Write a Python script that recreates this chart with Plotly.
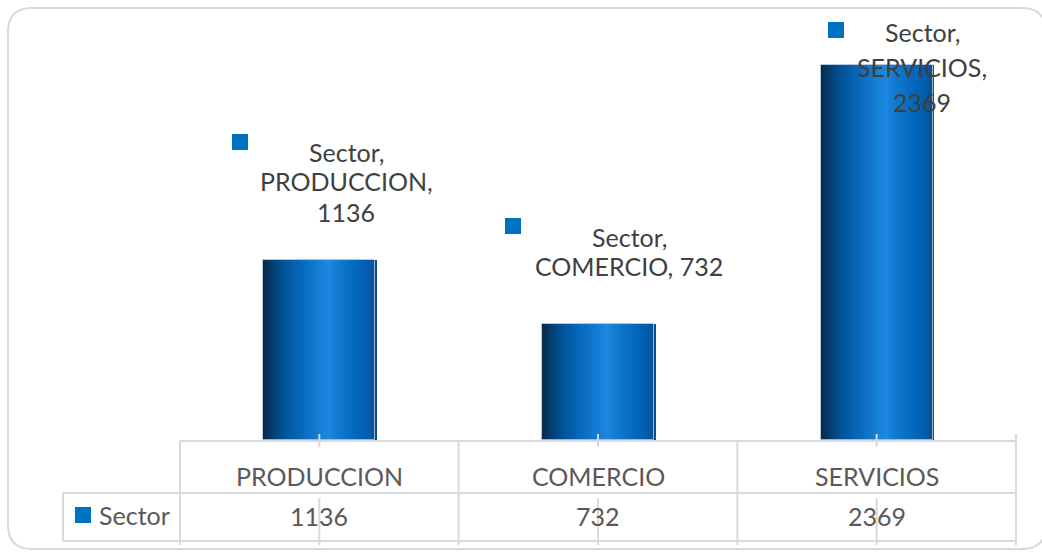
import plotly.graph_objects as go

categories = ["PRODUCCION", "COMERCIO", "SERVICIOS"]
values = [1136, 732, 2369]
series_name = "Sector"

W, H = 1042, 552
ML, MR, MT, MB = 180, 26, 44, 112
PW, PH = W - ML - MR, H - MT - MB

def px(x):
    return (x - ML) / PW

def py(y):
    return (H - MB - y) / PH

# gradient across the bar (position, rgb)
stops = [
    (0.00, (10, 40, 70)),
    (0.08, (2, 62, 112)),
    (0.20, (0, 86, 156)),
    (0.35, (8, 106, 190)),
    (0.50, (20, 126, 214)),
    (0.58, (28, 136, 224)),
    (0.70, (14, 118, 204)),
    (0.85, (2, 102, 186)),
    (0.95, (4, 90, 168)),
    (1.00, (12, 76, 136)),
]

def grad(t):
    for (a, ca), (b, cb) in zip(stops[:-1], stops[1:]):
        if a <= t <= b:
            f = (t - a) / (b - a) if b > a else 0
            c = [round(ca[k] + (cb[k] - ca[k]) * f) for k in range(3)]
            return f"rgb({c[0]},{c[1]},{c[2]})"
    return "rgb(12,76,136)"

bar_w = 0.402
N = 40
fig = go.Figure()
sw = bar_w / N
for i in range(N):
    t = (i + 0.5) / N
    fig.add_trace(go.Bar(
        x=categories, y=values, width=sw * 1.6, offset=-bar_w / 2 + i * sw,
        marker=dict(color=grad(t), line=dict(width=0)),
        showlegend=False, hoverinfo="skip",
    ))
# outline
fig.add_trace(go.Bar(
    x=categories, y=values, width=bar_w, offset=-bar_w / 2,
    marker=dict(color="rgba(0,0,0,0)", line=dict(width=1, color="rgba(170,195,220,0.9)")),
    showlegend=False, hoverinfo="skip",
))

grey = "#d9d9d9"
shapes = []
def line(x0, y0, x1, y1, w=2, c=grey):
    shapes.append(dict(type="line", xref="paper", yref="paper",
                       x0=px(x0), y0=py(y0), x1=px(x1), y1=py(y1),
                       line=dict(color=c, width=w)))

# rounded frame
fx0, fy0, fx1, fy1, r = 8, 8, 1046, 549, 24
path = (f"M {px(fx0+r)},{py(fy0)} L {px(fx1-r)},{py(fy0)} "
        f"Q {px(fx1)},{py(fy0)} {px(fx1)},{py(fy0+r)} "
        f"L {px(fx1)},{py(fy1-r)} Q {px(fx1)},{py(fy1)} {px(fx1-r)},{py(fy1)} "
        f"L {px(fx0+r)},{py(fy1)} Q {px(fx0)},{py(fy1)} {px(fx0)},{py(fy1-r)} "
        f"L {px(fx0)},{py(fy0+r)} Q {px(fx0)},{py(fy0)} {px(fx0+r)},{py(fy0)} Z")
shapes.append(dict(type="path", xref="paper", yref="paper", path=path,
                   line=dict(color=grey, width=2), fillcolor="rgba(0,0,0,0)"))

# data table
tx = [ML + PW * k / len(categories) for k in range(len(categories) + 1)]
line(ML, 441, tx[-1], 441)
line(63, 493, tx[-1], 493)
line(63, 541, tx[-1], 541)
line(63, 493, 63, 541)
line(tx[0], 441, tx[0], 545)
for xx in tx[1:-1]:
    line(xx, 441, xx, 545)
line(tx[-1], 434, tx[-1], 545)
for k in range(len(categories)):
    cx = (tx[k] + tx[k + 1]) / 2
    line(cx, 434, cx, 447)
    line(cx, 498, cx, 545)

annotations = []
font_tbl = dict(family="Lato", size=25, color="#595959")
font_lbl = dict(family="Lato", size=25, color="#404040")

def text(x, y, s, font, xanchor="center"):
    annotations.append(dict(xref="paper", yref="paper", x=px(x), y=py(y), text=s,
                            showarrow=False, font=font, xanchor=xanchor, yanchor="middle"))

def square(x0, y0, size=16):
    shapes.append(dict(type="rect", xref="paper", yref="paper",
                       x0=px(x0), y0=py(y0), x1=px(x0 + size), y1=py(y0 + size),
                       fillcolor="#0070C0", line=dict(width=0)))

for k, (c, v) in enumerate(zip(categories, values)):
    cx = (tx[k] + tx[k + 1]) / 2
    text(cx, 476, c, font_tbl)
    text(cx, 516, f"{v}", font_tbl)

square(75, 507)
text(97, 515, series_name, font_tbl, xanchor="left")

# data labels (series name, category, value)
lbl_layout = [
    # square x, square y, text center x, line y positions
    (232, 134, 346, [152, 181, 212], "split3"),
    (505, 218, 629, [237, 266], "split2"),
    (828, 22, 922, [32, 67, 102], "split3"),
]
for (sqx, sqy, lx, ys, mode), c, v in zip(lbl_layout, categories, values):
    square(sqx, sqy)
    if mode == "split3":
        lines = [f"{series_name},", f"{c},", f"{v}"]
    else:
        lines = [f"{series_name},", f"{c}, {v}"]
    for yy, s in zip(ys, lines):
        text(lx, yy, s, font_lbl)

fig.update_layout(
    width=W, height=H,
    margin=dict(l=ML, r=MR, t=MT, b=MB),
    paper_bgcolor="white", plot_bgcolor="white",
    barmode="overlay", bargap=0,
    xaxis=dict(visible=False, range=[-0.5, 2.5], type="category"),
    yaxis=dict(visible=False, range=[0, 2500]),
    shapes=shapes, annotations=annotations,
    showlegend=False,
)

fig.write_html("out.html", config={"displayModeBar": False},
               post_script="document.body.style.margin='0';document.body.style.overflow='hidden';")
